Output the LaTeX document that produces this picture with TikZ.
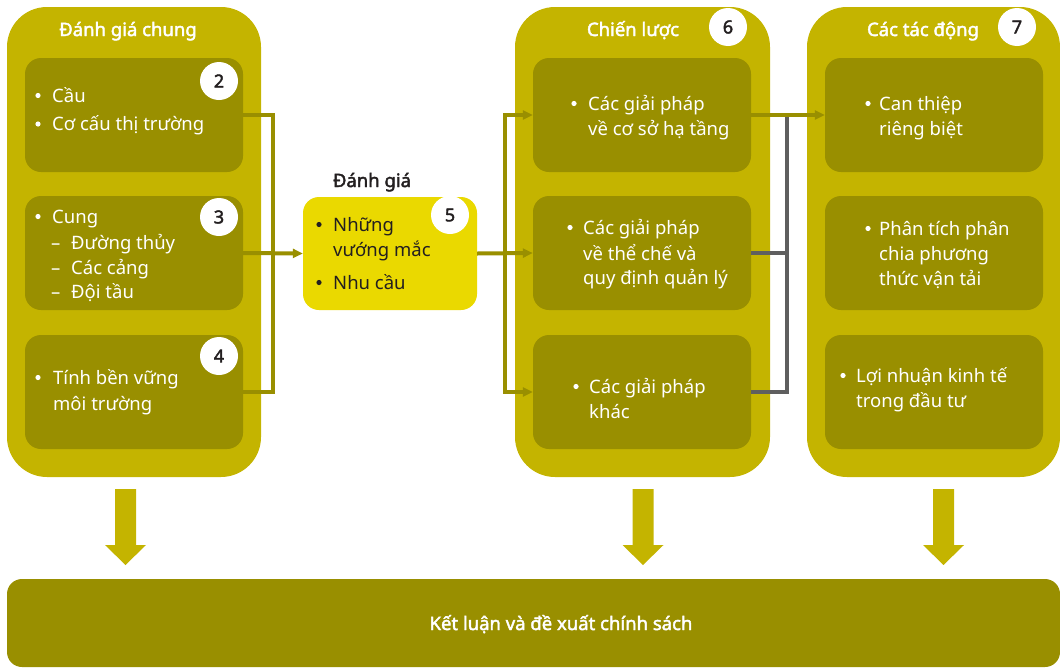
\documentclass[tikz,border=0pt]{standalone}
\usepackage{fontspec}
\setmainfont{Noto Sans}[AutoFakeBold=2.2]
\usetikzlibrary{arrows.meta}
\definecolor{outerc}{HTML}{C4B400}
\definecolor{innerc}{HTML}{998F00}
\definecolor{midc}{HTML}{EAD900}
\definecolor{greyc}{HTML}{5F5F5F}
\definecolor{darkt}{HTML}{231F20}
\newcommand\bigdown[1]{\fill[outerc] ({#1-10.5},489) -- ({#1+10.5},489) -- ({#1+10.5},545) -- ({#1+20.5},545) -- (#1,565) -- ({#1-20.5},545) -- ({#1-10.5},545) -- cycle;}
\newcommand\dotb[3]{\fill[#3] (#1,#2) circle (2.6pt);}
\begin{document}
\begin{tikzpicture}[x=1pt,y=-1pt,
 col/.style={fill=outerc,rounded corners=40pt,inner sep=0,minimum height=470pt},
 ibox/.style={fill=innerc,rounded corners=16pt,inner sep=0,minimum width=218pt,minimum height=114pt},
 num/.style={circle,fill=white,inner sep=0,minimum size=38pt,font=\fontsize{18}{20}\selectfont\bfseries,text=darkt},
 wt/.style={anchor=base west,inner sep=0,text=white,font=\fontsize{18.5}{22}\selectfont},
 dt/.style={wt,text=darkt},
 ttl/.style={anchor=base,inner sep=0,text=white,font=\fontsize{18.5}{22}\selectfont\bfseries},
 conn/.style={draw=innerc,line width=4pt},
 arr/.style={conn,-{Triangle[length=10pt,width=9pt]}},
 gconn/.style={draw=greyc,line width=4pt}
]
\useasboundingbox (0,0) rectangle (1060,667);
% columns
\node[col,minimum width=254pt] (Lcol) at (134,242) {};
\node[col,minimum width=255pt] (Scol) at (642.5,242) {};
\node[col,minimum width=253pt] (Icol) at (933.5,242) {};
% big arrows and bottom bar
\bigdown{125.5}
\bigdown{643}
\bigdown{943.5}
\node[fill=innerc,rounded corners=15pt,inner sep=0,minimum width=1053pt,minimum height=88pt] (bot) at (533.5,623) {};
% inner boxes
\node[ibox] (L1) at (134,115) {};
\node[ibox] (L2) at (134,253) {};
\node[ibox] (L3) at (134,392) {};
\node[ibox] (S1) at (642,115) {};
\node[ibox] (S2) at (642,253) {};
\node[ibox] (S3) at (642,392) {};
\node[ibox] (I1) at (934,115) {};
\node[ibox] (I2) at (934,253) {};
\node[ibox] (I3) at (934,392) {};
\node[fill=midc,rounded corners=16pt,inner sep=0,minimum width=174pt,minimum height=113pt] (M) at (390,253.5) {};
% connectors
\coordinate (jL) at (273,253);
\draw[conn] (L1.east) -| (jL) |- (L3.east);
\draw[arr] (L2.east) -- (M.west);
\coordinate (jM) at (505,253);
\draw[arr] (M.east) -- (S2.west);
\draw[arr] (jM) |- (S1.west);
\draw[arr] (jM) |- (S3.west);
\coordinate (jS) at (787,253);
\draw[gconn] (S2.east) -- (jS);
\draw[gconn] (jS |- S1.east) |- (S3.east);
\draw[arr] (S1.east) -- (I1.west);
% number circles
\node[num] (n2) at (219,81) {2};
\node[num] (n3) at (219,217) {3};
\node[num] (n4) at (219,356) {4};
\node[num] (n5) at (450,215) {5};
\node[num] (n6) at (728,27) {6};
\node[num] (n7) at (1017,27) {7};
% titles
\node[ttl] (t1) at (128,36) {Đánh giá chung};
\node[ttl] (t2) at (633,36) {Chiến lược};
\node[ttl] (t3) at (923,36) {Các tác động};
\node[ttl,text=darkt] (t5) at (372,187) {Đánh giá};
\node[ttl] (tb) at (561,630) {Kết luận và đề xuất chính sách};
% left box texts
\dotb{38}{95.5}{white}
\node[wt] (a1) at (52,102) {Cầu};
\dotb{38}{124}{white}
\node[wt] (a2) at (52,130.5) {Cơ cấu thị trường};
\dotb{38}{216.5}{white}
\node[wt] (b1) at (52,223) {Cung};
\node[wt] (b2d) at (51,249) {–};
\node[wt] (b2) at (71,249) {Đường thủy};
\node[wt] (b3d) at (51,274) {–};
\node[wt] (b3) at (71,274) {Các cảng};
\node[wt] (b4d) at (51,298) {–};
\node[wt] (b4) at (71,298) {Đội tầu};
\dotb{38}{377.5}{white}
\node[wt] (c1) at (53,384) {Tính bền vững};
\node[wt] (c2) at (53,410) {môi trường};
% middle texts
\dotb{319}{224.5}{darkt}
\node[dt] (m1) at (333,231) {Những};
\node[dt] (m2) at (333,256) {vướng mắc};
\dotb{319}{282.5}{darkt}
\node[dt] (m3) at (333,289) {Nhu cầu};
% strategy texts
\dotb{574}{103.5}{white}
\node[wt] (s11) at (588,110) {Các giải pháp};
\node[wt] (s12) at (588,135) {về cơ sở hạ tầng};
\dotb{570}{227.5}{white}
\node[wt] (s21) at (583,234) {Các giải pháp};
\node[wt] (s22) at (583,260) {về thể chế và};
\node[wt] (s23) at (583,284) {quy định quản lý};
\dotb{576}{386.5}{white}
\node[wt] (s31) at (589,393) {Các giải pháp};
\node[wt] (s32) at (589,418) {khác};
% impact texts
\dotb{868}{103.5}{white}
\node[wt] (i11) at (879,110) {Can thiệp};
\node[wt] (i12) at (879,135) {riêng biệt};
\dotb{868}{228.5}{white}
\node[wt] (i21) at (879,235) {Phân tích phân};
\node[wt] (i22) at (879,260) {chia phương};
\node[wt] (i23) at (879,285) {thức vận tải};
\dotb{843}{375.5}{white}
\node[wt] (i31) at (856,382) {Lợi nhuận kinh tế};
\node[wt] (i32) at (856,407) {trong đầu tư};
\end{tikzpicture}
\end{document}
